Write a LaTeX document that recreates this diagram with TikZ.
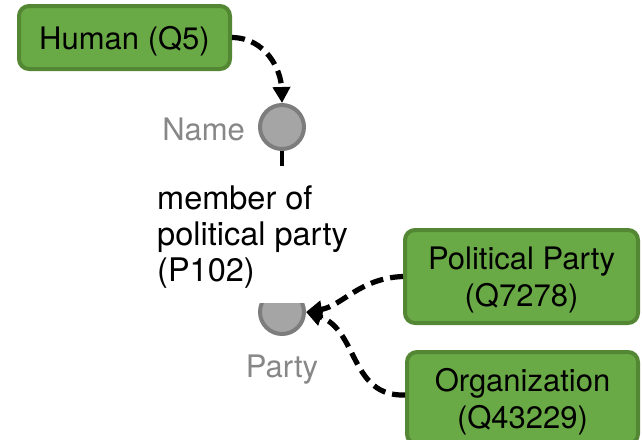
\documentclass[tikz,border=0pt]{standalone}
\usepackage{fontspec}
\setmainfont{TeX Gyre Heros}
\usetikzlibrary{arrows.meta}

\definecolor{boxfill}{RGB}{106,170,70}
\definecolor{boxline}{RGB}{84,135,52}
\definecolor{slotfill}{RGB}{165,165,165}
\definecolor{slotline}{RGB}{125,125,125}
\definecolor{slottext}{RGB}{135,135,135}

\tikzset{
  classbox/.style={draw=boxline, fill=boxfill, line width=4pt, rounded corners=10pt,
    align=center, inner sep=0pt, text depth=0pt, font=\fontsize{31}{37}\selectfont},
  slot/.style={circle, draw=slotline, fill=slotfill, line width=4pt,
    minimum size=44pt, inner sep=0pt},
  slotlabel/.style={text=slottext, inner sep=0pt, font=\fontsize{31}{37}\selectfont},
  typelink/.style={line width=5.2pt, dash pattern=on 13pt off 7pt,
    -{Triangle[length=16pt,width=17pt]}},
  proplabel/.style={align=left, inner sep=0pt, font=\fontsize{32.5}{36}\selectfont},
}

\begin{document}
\begin{tikzpicture}[x=1pt, y=-1pt]
  \useasboundingbox (0,0) rectangle (642,439);

  % entity type boxes
  \node[classbox, minimum width=211pt, minimum height=63pt] (human) at (124.5,37.5) {Human (Q5)};
  \node[classbox, minimum width=233pt, minimum height=93pt] (pp) at (521.5,276.5) {Political Party\\(Q7278)};
  \node[classbox, minimum width=231pt, minimum height=92pt] (org) at (522.5,398) {Organization\\(Q43229)};

  % subject slot
  \node[slot] (name) at (282,127) {};
  \node[slotlabel, anchor=base east] (namelbl) at (245,140) {Name};
  \coordinate (stubend) at (282,166);
  \draw[line width=4pt] (name.south) -- (stubend);

  % property label (anchored on the baseline of its last line)
  \node[proplabel, anchor=base west] (prop) at (157,281) {member of\\political party\\(P102)};

  % object slot, upper part hidden
  \begin{scope}
    \clip (240,303) rectangle (330,345);
    \node[slot] (party) at (282,312) {};
  \end{scope}
  \node[slotlabel, anchor=base] (partylbl) at (282,377) {Party};

  % type constraints
  \draw[typelink] (human.east) .. controls (266,38) and (281,70) .. (name.north);
  \draw[typelink] (pp.west) .. controls (360,278) and (342,306) .. (party.east);
  \draw[typelink] ([yshift=3pt]org.west) .. controls (350,397) and (358,330) .. (party.east);
\end{tikzpicture}
\end{document}
